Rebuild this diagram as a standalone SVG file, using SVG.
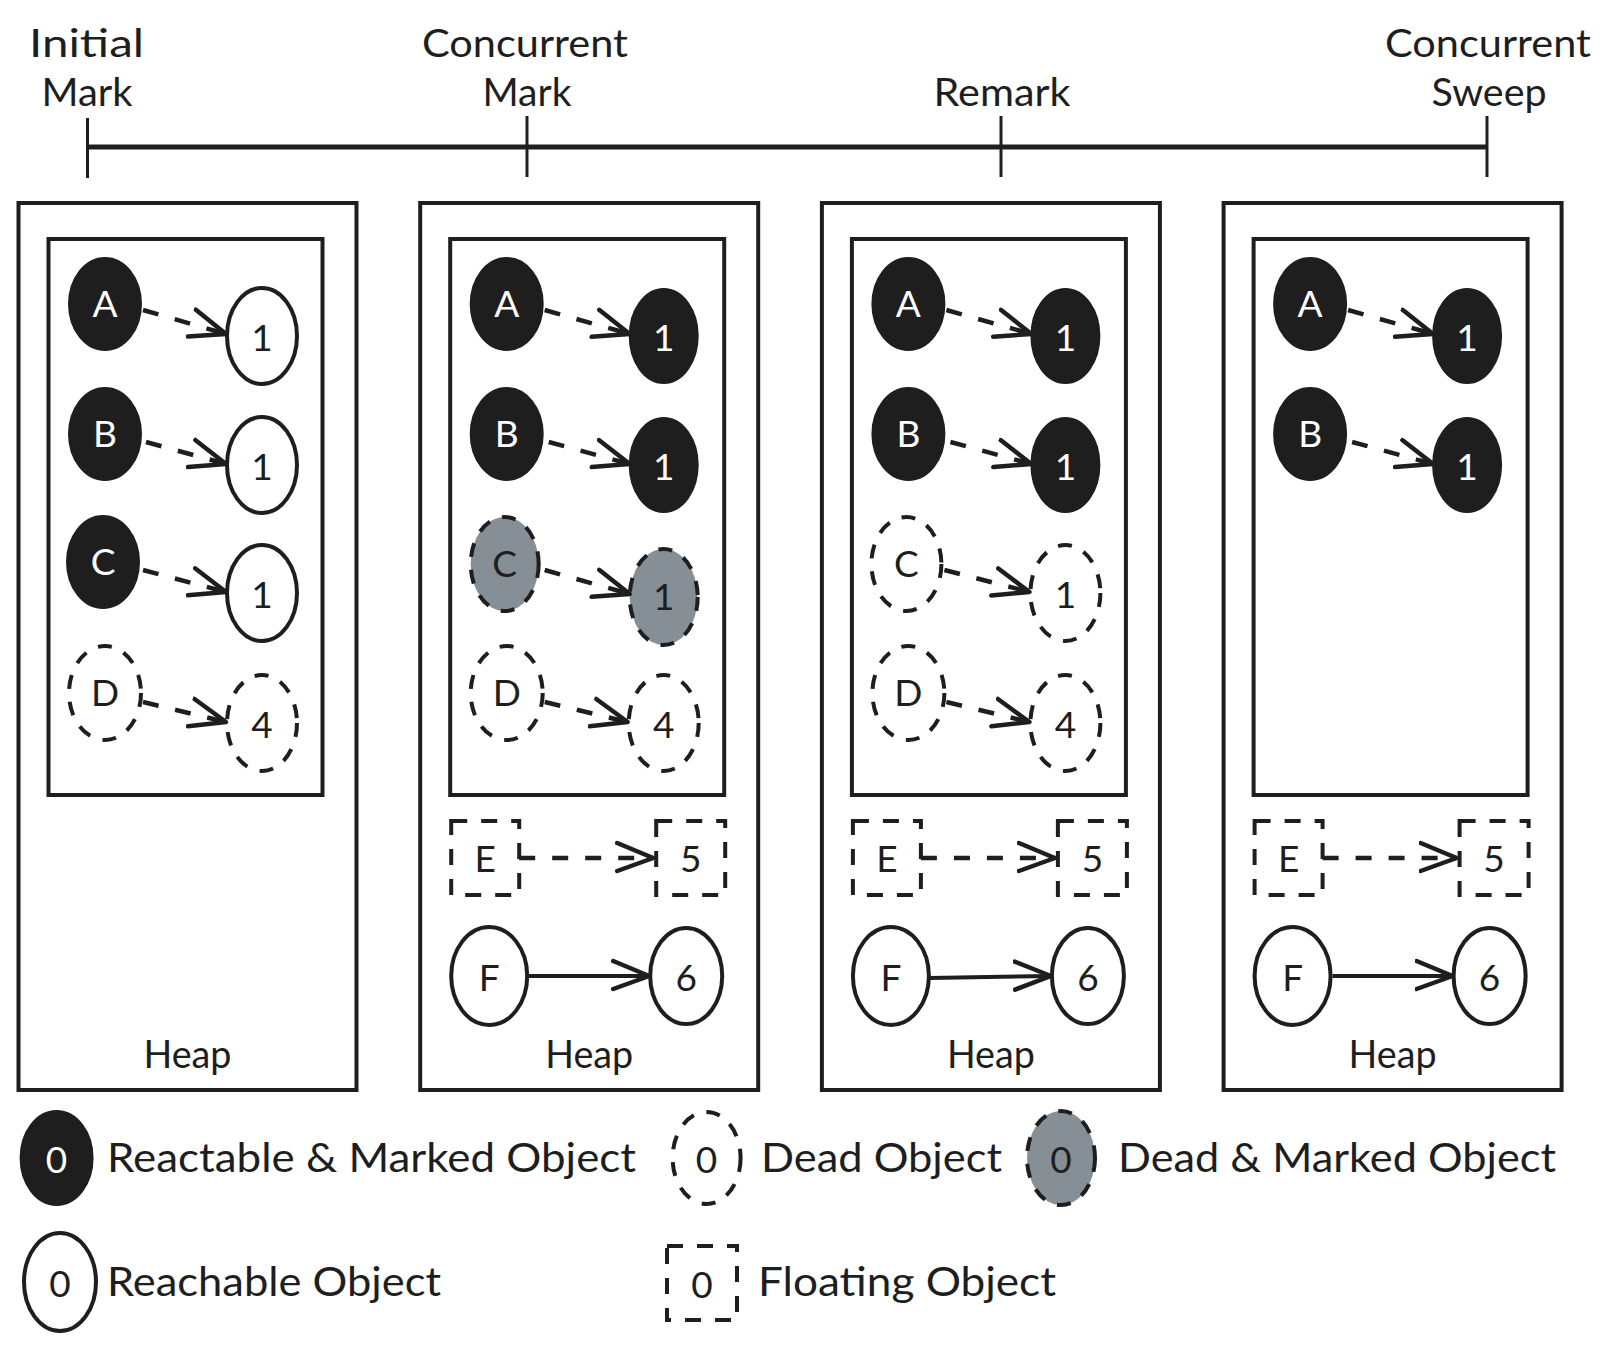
<svg xmlns="http://www.w3.org/2000/svg" width="1615" height="1352" viewBox="0 0 1615 1352">
<style>
text{font-family:"Lato","Open Sans","Liberation Sans",sans-serif;fill:#1e1e1e}
.t{font-size:38px;text-anchor:middle}
.lbl{font-size:37px;text-anchor:middle;dominant-baseline:central}
.w{fill:#ffffff}
.leg{font-size:41px}
.box{fill:#fff;stroke:#1e1e1e;stroke-width:4}
.filled{fill:#1e1e1e;stroke:#1e1e1e;stroke-width:4}
.open{fill:#fff;stroke:#1e1e1e;stroke-width:4}
.dead{fill:#fff;stroke:#1e1e1e;stroke-width:4;stroke-dasharray:14 13}
.deadm{fill:#868e96;stroke:#1e1e1e;stroke-width:4;stroke-dasharray:14 13}
.flt{fill:#fff;stroke:#1e1e1e;stroke-width:4;stroke-dasharray:16 14}
.ed{fill:none;stroke:#1e1e1e;stroke-width:4.5;stroke-dasharray:16 17;marker-end:url(#ah)}
.es{fill:none;stroke:#1e1e1e;stroke-width:4;marker-end:url(#ah)}
</style>
<defs>
<marker id="ah" markerUnits="userSpaceOnUse" markerWidth="44" markerHeight="44" viewBox="-36 -22 40 44" refX="0" refY="0" orient="auto">
<path d="M-36,-15 L0,0 L-36,13" fill="none" stroke="#1e1e1e" stroke-width="4.5" stroke-linecap="round" stroke-linejoin="round" stroke-dasharray="none"/>
</marker>
</defs>
<rect width="1615" height="1352" fill="#ffffff"/>

<g id="timeline">
<line x1="87.5" y1="147" x2="1488" y2="147" stroke="#1e1e1e" stroke-width="5"/>
<line x1="87.5" y1="118" x2="87.5" y2="178" stroke="#1e1e1e" stroke-width="3"/>
<line x1="527" y1="116" x2="527" y2="177" stroke="#1e1e1e" stroke-width="3"/>
<line x1="1001" y1="116" x2="1001" y2="177" stroke="#1e1e1e" stroke-width="3"/>
<line x1="1487" y1="116" x2="1487" y2="177" stroke="#1e1e1e" stroke-width="3"/>
<text class="t" x="86.5" y="57" textLength="115" lengthAdjust="spacingAndGlyphs">Initial</text>
<text class="t" x="87" y="106" textLength="91" lengthAdjust="spacingAndGlyphs">Mark</text>
<text class="t" x="525" y="57" textLength="206" lengthAdjust="spacingAndGlyphs">Concurrent</text>
<text class="t" x="527" y="106" textLength="89" lengthAdjust="spacingAndGlyphs">Mark</text>
<text class="t" x="1002" y="106" textLength="137" lengthAdjust="spacingAndGlyphs">Remark</text>
<text class="t" x="1488" y="57" textLength="206" lengthAdjust="spacingAndGlyphs">Concurrent</text>
<text class="t" x="1489" y="106" textLength="115" lengthAdjust="spacingAndGlyphs">Sweep</text>
</g>

<!-- Panel 1: Initial Mark -->
<g id="panel1">
<rect class="box" x="18.5" y="203" width="338" height="887"/>
<rect class="box" x="48.5" y="239" width="274" height="556"/>
<text class="t" x="187.5" y="1068" font-size="34" textLength="88" lengthAdjust="spacingAndGlyphs">Heap</text>
</g>
<g id="p1-A"><ellipse class="filled" cx="105" cy="304" rx="35" ry="45"/><text class="lbl w" x="105" y="302">A</text></g>
<g id="p1-A1"><ellipse class="open" cx="262" cy="336" rx="35" ry="48"/><text class="lbl" x="262" y="336">1</text></g>
<g id="p1-B"><ellipse class="filled" cx="105" cy="434" rx="35" ry="45"/><text class="lbl w" x="105" y="432">B</text></g>
<g id="p1-B1"><ellipse class="open" cx="262" cy="465" rx="35" ry="48"/><text class="lbl" x="262" y="465">1</text></g>
<g id="p1-C"><ellipse class="filled" cx="103" cy="562" rx="35" ry="45"/><text class="lbl w" x="103" y="560">C</text></g>
<g id="p1-C1"><ellipse class="open" cx="262" cy="593" rx="35" ry="48"/><text class="lbl" x="262" y="593">1</text></g>
<g id="p1-D"><ellipse class="dead" cx="105" cy="693" rx="36" ry="47"/><text class="lbl" x="105" y="691">D</text></g>
<g id="p1-D4"><ellipse class="dead" cx="262" cy="723" rx="35" ry="48"/><text class="lbl" x="262" y="723">4</text></g>

<!-- Panel 2: Concurrent Mark -->
<g id="panel2">
<rect class="box" x="420.2" y="203" width="338" height="887"/>
<rect class="box" x="450.2" y="239" width="274" height="556"/>
<text class="t" x="589.2" y="1068" font-size="34" textLength="88" lengthAdjust="spacingAndGlyphs">Heap</text>
</g>
<g id="p2-A"><ellipse class="filled" cx="506.7" cy="304" rx="35" ry="45"/><text class="lbl w" x="506.7" y="302">A</text></g>
<g id="p2-A1"><ellipse class="filled" cx="663.7" cy="336" rx="33" ry="46"/><text class="lbl w" x="663.7" y="336">1</text></g>
<g id="p2-B"><ellipse class="filled" cx="506.7" cy="434" rx="35" ry="45"/><text class="lbl w" x="506.7" y="432">B</text></g>
<g id="p2-B1"><ellipse class="filled" cx="663.7" cy="465" rx="33" ry="46"/><text class="lbl w" x="663.7" y="465">1</text></g>
<g id="p2-C"><ellipse class="deadm" cx="504.7" cy="564" rx="34" ry="47"/><text class="lbl" x="504.7" y="562">C</text></g>
<g id="p2-C1"><ellipse class="deadm" cx="663.7" cy="597" rx="34" ry="48"/><text class="lbl" x="663.7" y="595">1</text></g>
<g id="p2-D"><ellipse class="dead" cx="506.7" cy="693" rx="36" ry="47"/><text class="lbl" x="506.7" y="691">D</text></g>
<g id="p2-D4"><ellipse class="dead" cx="663.7" cy="723" rx="35" ry="48"/><text class="lbl" x="663.7" y="723">4</text></g>
<g id="p2-E"><rect class="flt" x="451.2" y="821" width="68" height="74"/><text class="lbl" x="485.2" y="857">E</text></g>
<g id="p2-5"><rect class="flt" x="656.2" y="821" width="69" height="74"/><text class="lbl" x="690.7" y="857">5</text></g>
<g id="p2-F"><ellipse class="open" cx="489.2" cy="976" rx="38" ry="49"/><text class="lbl" x="489.2" y="976">F</text></g>
<g id="p2-6"><ellipse class="open" cx="686.2" cy="976" rx="36" ry="48"/><text class="lbl" x="686.2" y="976">6</text></g>

<!-- Panel 3: Remark -->
<g id="panel3">
<rect class="box" x="821.9" y="203" width="338" height="887"/>
<rect class="box" x="851.9" y="239" width="274" height="556"/>
<text class="t" x="990.9" y="1068" font-size="34" textLength="88" lengthAdjust="spacingAndGlyphs">Heap</text>
</g>
<g id="p3-A"><ellipse class="filled" cx="908.4" cy="304" rx="35" ry="45"/><text class="lbl w" x="908.4" y="302">A</text></g>
<g id="p3-A1"><ellipse class="filled" cx="1065.4" cy="336" rx="33" ry="46"/><text class="lbl w" x="1065.4" y="336">1</text></g>
<g id="p3-B"><ellipse class="filled" cx="908.4" cy="434" rx="35" ry="45"/><text class="lbl w" x="908.4" y="432">B</text></g>
<g id="p3-B1"><ellipse class="filled" cx="1065.4" cy="465" rx="33" ry="46"/><text class="lbl w" x="1065.4" y="465">1</text></g>
<g id="p3-C"><ellipse class="dead" cx="906.4" cy="564" rx="35" ry="47"/><text class="lbl" x="906.4" y="562">C</text></g>
<g id="p3-C1"><ellipse class="dead" cx="1065.4" cy="593" rx="35" ry="48"/><text class="lbl" x="1065.4" y="593">1</text></g>
<g id="p3-D"><ellipse class="dead" cx="908.4" cy="693" rx="36" ry="47"/><text class="lbl" x="908.4" y="691">D</text></g>
<g id="p3-D4"><ellipse class="dead" cx="1065.4" cy="723" rx="35" ry="48"/><text class="lbl" x="1065.4" y="723">4</text></g>
<g id="p3-E"><rect class="flt" x="852.9" y="821" width="68" height="74"/><text class="lbl" x="886.9" y="857">E</text></g>
<g id="p3-5"><rect class="flt" x="1057.9" y="821" width="69" height="74"/><text class="lbl" x="1092.4" y="857">5</text></g>
<g id="p3-F"><ellipse class="open" cx="890.9" cy="976" rx="38" ry="49"/><text class="lbl" x="890.9" y="976">F</text></g>
<g id="p3-6"><ellipse class="open" cx="1087.9" cy="976" rx="36" ry="48"/><text class="lbl" x="1087.9" y="976">6</text></g>

<!-- Panel 4: Concurrent Sweep -->
<g id="panel4">
<rect class="box" x="1223.6" y="203" width="338" height="887"/>
<rect class="box" x="1253.6" y="239" width="274" height="556"/>
<text class="t" x="1392.6" y="1068" font-size="34" textLength="88" lengthAdjust="spacingAndGlyphs">Heap</text>
</g>
<g id="p4-A"><ellipse class="filled" cx="1310.1" cy="304" rx="35" ry="45"/><text class="lbl w" x="1310.1" y="302">A</text></g>
<g id="p4-A1"><ellipse class="filled" cx="1467.1" cy="336" rx="33" ry="46"/><text class="lbl w" x="1467.1" y="336">1</text></g>
<g id="p4-B"><ellipse class="filled" cx="1310.1" cy="434" rx="35" ry="45"/><text class="lbl w" x="1310.1" y="432">B</text></g>
<g id="p4-B1"><ellipse class="filled" cx="1467.1" cy="465" rx="33" ry="46"/><text class="lbl w" x="1467.1" y="465">1</text></g>
<g id="p4-E"><rect class="flt" x="1254.6" y="821" width="68" height="74"/><text class="lbl" x="1288.6" y="857">E</text></g>
<g id="p4-5"><rect class="flt" x="1459.6" y="821" width="69" height="74"/><text class="lbl" x="1494.1" y="857">5</text></g>
<g id="p4-F"><ellipse class="open" cx="1292.6" cy="976" rx="38" ry="49"/><text class="lbl" x="1292.6" y="976">F</text></g>
<g id="p4-6"><ellipse class="open" cx="1489.6" cy="976" rx="36" ry="48"/><text class="lbl" x="1489.6" y="976">6</text></g>

<g id="connectors">
<!-- panel 1 -->
<path class="ed" d="M143,310 L226,334"/>
<path class="ed" d="M146,442 L226,464"/>
<path class="ed" d="M143,570 L226,592"/>
<path class="ed" d="M143,702 L226,722"/>
<!-- panel 2 -->
<path class="ed" d="M544.7,310 L629.7,334"/>
<path class="ed" d="M548.7,442 L629.7,464"/>
<path class="ed" d="M544.7,570 L629.7,594"/>
<path class="ed" d="M544.7,702 L627.7,722"/>
<path class="ed" d="M519.2,858 L653.2,858"/>
<path class="es" d="M527.2,976 L649.2,976"/>
<!-- panel 3 -->
<path class="ed" d="M946.4,310 L1031.4,334"/>
<path class="ed" d="M950.4,442 L1031.4,464"/>
<path class="ed" d="M944.4,570 L1029.4,592"/>
<path class="ed" d="M946.4,702 L1029.4,722"/>
<path class="ed" d="M920.9,858 L1054.9,858"/>
<path class="es" d="M928.9,978 L1050.9,976"/>
<!-- panel 4 -->
<path class="ed" d="M1348.1,310 L1433.1,334"/>
<path class="ed" d="M1352.1,442 L1433.1,464"/>
<path class="ed" d="M1322.6,858 L1456.6,858"/>
<path class="es" d="M1332.6,976 L1452.6,976"/>
</g>

<g id="legend">
<g id="leg-marked"><ellipse class="filled" cx="56.6" cy="1158" rx="35" ry="46"/><text class="lbl w" x="56.6" y="1158" font-size="32">0</text>
<text class="leg" x="107" y="1172" textLength="529" lengthAdjust="spacingAndGlyphs">Reactable &amp; Marked Object</text></g>
<g id="leg-dead"><ellipse class="dead" cx="706.6" cy="1158" rx="34" ry="46"/><text class="lbl" x="706.6" y="1158" font-size="32">0</text>
<text class="leg" x="761" y="1172" textLength="241" lengthAdjust="spacingAndGlyphs">Dead Object</text></g>
<g id="leg-deadm"><ellipse class="deadm" cx="1061" cy="1158" rx="34" ry="47"/><text class="lbl" x="1061" y="1158" font-size="32">0</text>
<text class="leg" x="1118" y="1172" textLength="438" lengthAdjust="spacingAndGlyphs">Dead &amp; Marked Object</text></g>
<g id="leg-reach"><ellipse class="open" cx="60" cy="1282" rx="36" ry="49"/><text class="lbl" x="60" y="1282" font-size="32">0</text>
<text class="leg" x="107" y="1296" textLength="334" lengthAdjust="spacingAndGlyphs">Reachable Object</text></g>
<g id="leg-float"><rect class="flt" x="667" y="1246" width="70" height="74"/><text class="lbl" x="702" y="1283" font-size="32">0</text>
<text class="leg" x="758" y="1296" textLength="298" lengthAdjust="spacingAndGlyphs">Floating Object</text></g>
</g>
</svg>
